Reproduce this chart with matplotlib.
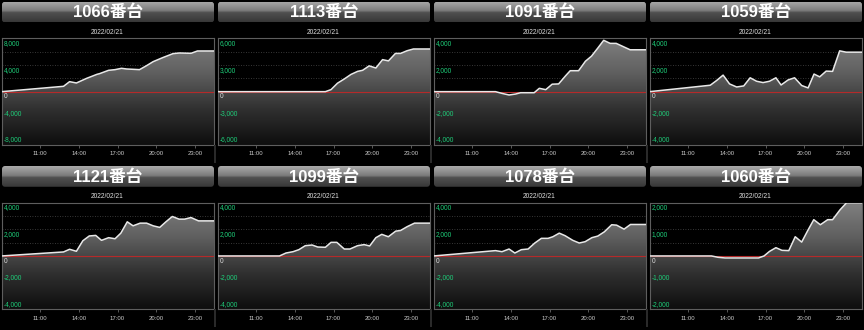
import numpy as np
import matplotlib.pyplot as plt
from matplotlib.colors import LinearSegmentedColormap
from matplotlib.patches import FancyBboxPatch, Rectangle

# 台番号ごとの差枚推移 (時刻[h], 差枚)
t_1066 = [8.0, 12.8, 13.27, 13.8, 14.6, 15.4, 15.6, 16.3, 16.8, 17.3, 17.7, 18.7, 19.25, 19.76, 20.5, 21.3, 21.8, 22.7, 23.2, 24.5]
v_1066 = [0, 800, 1500, 1300, 2000, 2600, 2700, 3200, 3300, 3500, 3400, 3300, 3900, 4500, 5100, 5700, 5800, 5750, 6100, 6100]

t_1113 = [8.0, 16.36, 16.8, 17.3, 17.8, 18.35, 18.86, 19.25, 19.76, 20.28, 20.8, 21.26, 21.8, 22.2, 22.7, 23.2, 24.5]
v_1113 = [0, 0, 230, 950, 1400, 1940, 2280, 2400, 2900, 2660, 3600, 3460, 4300, 4300, 4600, 4800, 4800]

t_1091 = [8.0, 12.8, 13.3, 13.85, 14.35, 14.75, 15.8, 16.2, 16.7, 17.2, 17.7, 18.25, 18.6, 19.25, 19.78, 20.25, 20.76, 21.2, 21.7, 22.17, 23.25, 24.5]
v_1091 = [0, 0, -130, -250, -180, -80, -80, 250, 150, 560, 580, 1200, 1570, 1570, 2280, 2660, 3290, 3850, 3620, 3620, 3140, 3140]

t_1059 = [8.0, 12.7, 13.2, 13.7, 14.2, 14.75, 15.3, 15.8, 16.3, 16.8, 17.3, 17.8, 18.2, 18.75, 19.25, 19.8, 20.3, 20.76, 21.2, 21.7, 22.2, 22.75, 23.25, 24.5]
v_1059 = [0, 480, 840, 1240, 580, 350, 430, 1040, 780, 680, 780, 1040, 500, 880, 1040, 460, 280, 1320, 1110, 1540, 1520, 3060, 2960, 2960]

t_1121 = [8.0, 12.8, 13.27, 13.8, 14.3, 14.8, 15.3, 15.75, 16.3, 16.8, 17.25, 17.75, 18.2, 18.75, 19.25, 19.76, 20.27, 20.75, 21.25, 21.77, 22.2, 22.7, 23.28, 24.5]
v_1121 = [0, 300, 500, 350, 1140, 1500, 1540, 1170, 1370, 1290, 1710, 2560, 2260, 2460, 2460, 2260, 2140, 2560, 2960, 2760, 2760, 2880, 2630, 2630]

t_1099 = [8.0, 12.8, 13.3, 13.85, 14.3, 14.8, 15.33, 15.77, 16.36, 16.8, 17.25, 17.83, 18.27, 18.86, 19.37, 19.8, 20.28, 20.74, 21.25, 21.82, 22.2, 22.7, 23.28, 24.5]
v_1099 = [0, 0, 220, 320, 470, 770, 820, 670, 650, 1020, 1020, 520, 520, 770, 850, 750, 1370, 1620, 1440, 1860, 1910, 2190, 2460, 2460]

t_1078 = [8.0, 12.8, 13.3, 13.85, 14.3, 14.8, 15.33, 15.85, 16.36, 16.88, 17.25, 17.75, 18.2, 18.8, 19.3, 19.76, 20.28, 20.74, 21.25, 21.82, 22.2, 22.78, 23.28, 24.5]
v_1078 = [0, 400, 320, 520, 220, 470, 520, 970, 1320, 1320, 1440, 1710, 1520, 1170, 970, 1070, 1370, 1490, 1810, 2340, 2310, 2010, 2360, 2360]

t_1060 = [8.0, 12.8, 13.3, 13.85, 16.45, 16.88, 17.3, 17.8, 18.27, 18.8, 19.3, 19.8, 20.28, 20.74, 21.25, 21.82, 22.2, 22.78, 23.28, 24.5]
v_1060 = [0, 0, -50, -75, -75, 0, 170, 310, 210, 200, 720, 520, 960, 1360, 1170, 1360, 1360, 1730, 1990, 1990]

names = ['1066', '1113', '1091', '1059', '1121', '1099', '1078', '1060']
series = [(t_1066, v_1066), (t_1113, v_1113), (t_1091, v_1091), (t_1059, v_1059),
          (t_1121, v_1121), (t_1099, v_1099), (t_1078, v_1078), (t_1060, v_1060)]
limits = [8000, 6000, 4000, 4000, 4000, 4000, 4000, 2000]
xticks = [11, 14, 17, 20, 23]
xlabels = ['11:00', '14:00', '17:00', '20:00', '23:00']
date_label = '2022/02/21'

W, H = 864, 330
fig = plt.figure(figsize=(W / 100, H / 100), dpi=100, facecolor='black')

def px_axes(x, y, w, h):
    return fig.add_axes([x / W, 1 - (y + h) / H, w / W, h / H])

fill_cmap = LinearSegmentedColormap.from_list('fill', ['#0e0e0e', '#303030', '#5e5e5e', '#808080'])
bar_cmap = LinearSegmentedColormap.from_list(
    'bar', [(0, '#383838'), (0.45, '#505050'), (0.55, '#7c7c7c'), (1, '#aaaaaa')])
tick_font = ['Liberation Sans', 'DejaVu Sans']

for i, name in enumerate(names):
    t, v = series[i]
    lim = limits[i]
    col, row = i % 4, i // 4
    x0, y0 = col * 216, row * 164.3

    # タイトルバー
    tb = px_axes(x0 + 2, y0 + 1.7, 212, 20.8)
    tb.axis('off')
    im = tb.imshow(np.linspace(0, 1, 64).reshape(-1, 1), extent=[0, 212, 0, 20.8],
                   origin='lower', cmap=bar_cmap, aspect='auto')
    box = FancyBboxPatch((0, 0), 212, 20.8, boxstyle='round,pad=0,rounding_size=3',
                         fc='none', ec='none', transform=tb.transData)
    tb.add_patch(box)
    im.set_clip_path(box)
    tb.set_xlim(0, 212)
    tb.set_ylim(0, 20.8)
    tb.text(106, 10.0, name + '番台', color='white', fontsize=12, fontweight='bold',
            ha='center', va='center', family=['Liberation Sans', 'Noto Sans CJK JP'])

    fig.text((x0 + 107.5) / W, 1 - (y0 + 32.3) / H, date_label, color='#dddddd',
             fontsize=4.8, ha='center', va='center', family=tick_font)

    # 区切り
    if col < 3:
        fig.patches.append(Rectangle(((x0 + 214) / W, 1 - (y0 + 163) / H), 2 / W, 18 / H,
                                     transform=fig.transFigure, fc='#2a2a2a', ec='none'))

    ax = px_axes(x0 + 1.7, y0 + 38.3, 212.5, 106.7)
    ax.set_facecolor('black')

    for g in np.arange(-lim, lim + 1, lim / 4)[1:-1]:
        if g != 0:
            ax.axhline(g, color='#4a4a4a', lw=0.6, ls=(0, (1, 2)), zorder=0.5)

    poly = ax.fill_between(t, v, -lim, fc='none', ec='none')
    gim = ax.imshow(np.linspace(0, 1, 128).reshape(-1, 1), extent=[8, 24.5, -lim, lim],
                    origin='lower', cmap=fill_cmap, aspect='auto', zorder=1)
    gim.set_clip_path(poly.get_paths()[0], transform=ax.transData)

    ax.axhline(0, color='#b52a2a', lw=0.8, zorder=2)
    ax.plot(t, v, color='#e8e8e8', lw=1.1, zorder=3)

    ax.set_xlim(8, 24.5)
    ax.set_ylim(-lim, lim)
    ax.set_xticks(xticks)
    ax.set_xticklabels(xlabels, family=tick_font)
    ax.set_yticks([])
    ax.tick_params(axis='x', colors='#666666', length=2.2, width=0.6, pad=2.3,
                   labelsize=4.3, labelcolor='#cccccc')
    for s in ax.spines.values():
        s.set_color('#5e5e5e')
        s.set_linewidth(0.8)

    for val in [lim, lim // 2, 0, -lim // 2, -lim]:
        if val >= 0:
            va, dy = 'top', -1.2
        else:
            va, dy = 'bottom', 1.2
        ax.annotate(f'{val:,}', xy=(0, val), xycoords=('axes fraction', 'data'),
                    xytext=(1.3, dy), textcoords='offset points', va=va, ha='left',
                    fontsize=4.7, family=tick_font,
                    color='#dddddd' if val == 0 else '#1ecf7a', zorder=4)

fig.savefig('out.png', dpi=100, facecolor='black')
